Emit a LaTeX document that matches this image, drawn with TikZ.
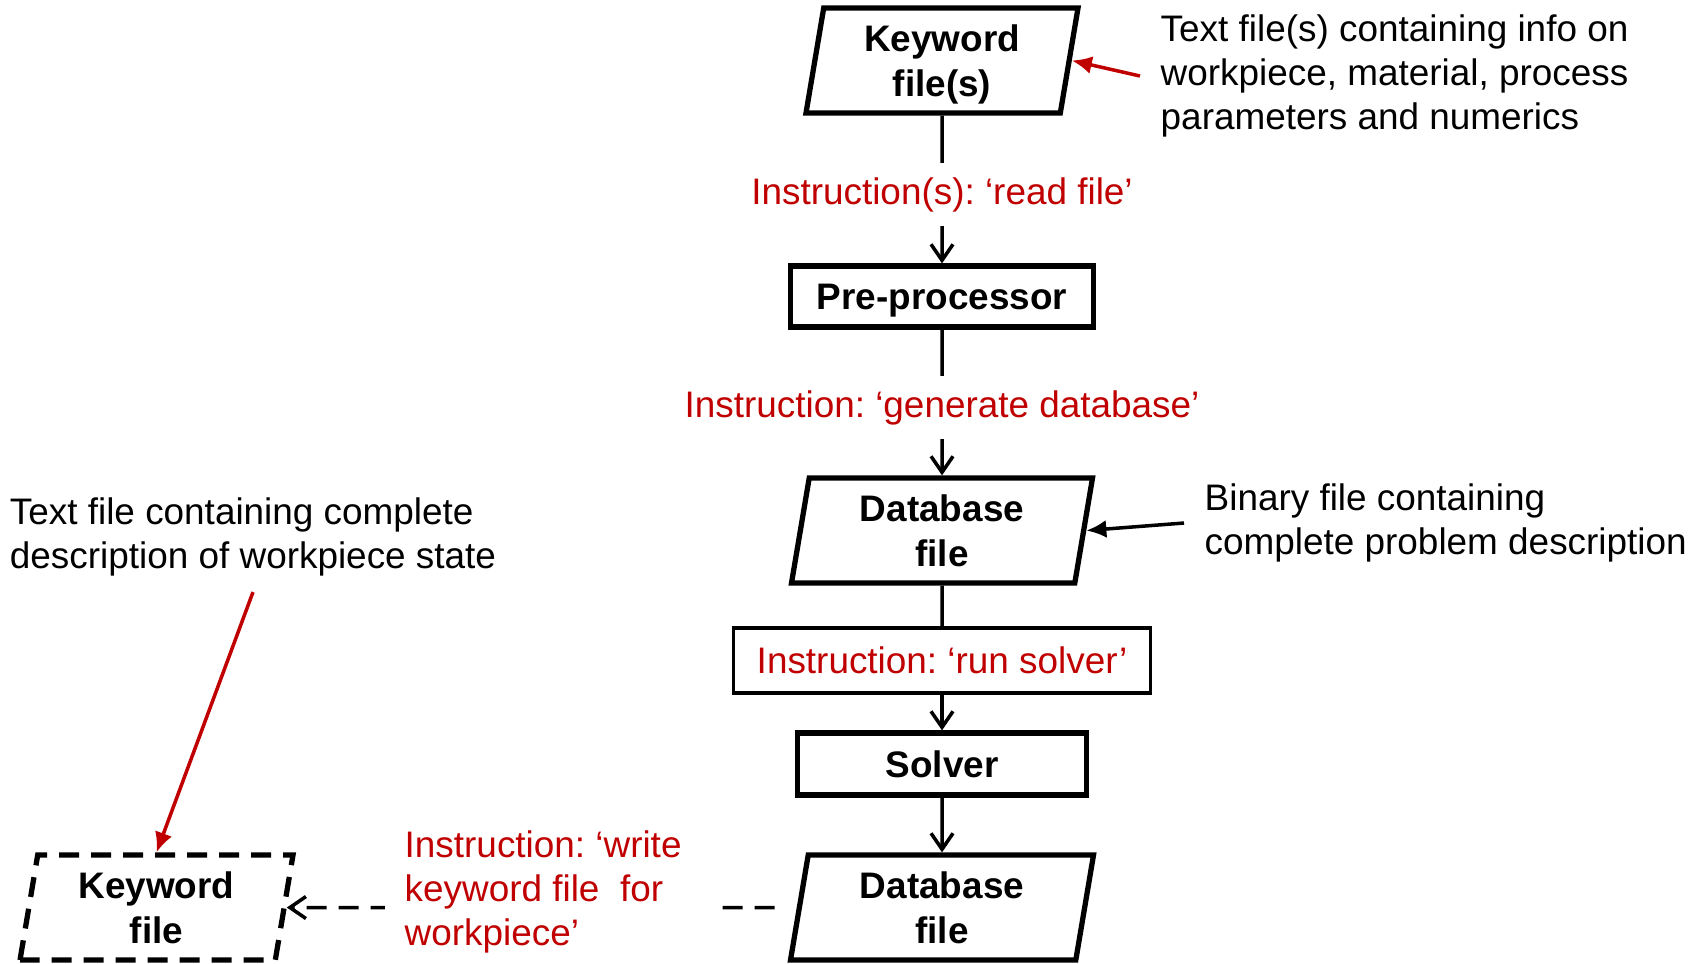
\documentclass[tikz,border=0pt]{standalone}
\usepackage{fontspec}
\setmainfont{Liberation Sans}
\usetikzlibrary{
  arrows.meta,      % Straight Barb / Latex tips
  shapes.geometric, % trapezium for the file symbols
  positioning       % relative placement
}
\definecolor{instred}{RGB}{192,0,0}
\newcommand{\diagfont}{\fontsize{10.5}{12.6}\selectfont\frenchspacing}

\tikzset{
  every node/.style={font=\diagfont},
  box/.style={draw, line width=1.5pt, rectangle, font=\diagfont\bfseries, inner sep=0pt, text depth=0pt},
  filebox/.style={draw, line width=1.5pt, trapezium, trapezium left angle=76,
    trapezium right angle=104, trapezium stretches body, align=center,
    font=\diagfont\bfseries, inner sep=0pt, text depth=0pt},
  instr/.style={text=instred, fill=white, inner xsep=0.1cm, inner ysep=0.14cm, yshift=-0.05cm},
  note/.style={align=left, inner xsep=0.2cm, inner ysep=0.15cm},
  flow/.style={line width=1pt, -{Straight Barb[length=1.6mm,width=2.2mm]}},
  pointer/.style={line width=1pt, -{Latex[length=2mm,width=1.8mm]}},
}

\begin{document}
\begin{tikzpicture}
    \useasboundingbox (0,0) rectangle (17.04,-9.63);
    % main column
    \def\colx{9.42}

    % --- flow of files and programs ---
    \node[filebox, minimum width=2.72cm, minimum height=1.05cm] (kw) at (\colx,-0.605) {Keyword\\file(s)};
    \node[box, minimum width=3.03cm, minimum height=0.61cm] (pre) at (\colx,-2.965) {Pre-processor};
    \node[filebox, minimum width=3.01cm, minimum height=1.05cm] (db) at (\colx,-5.305) {Database\\file};
    \node[box, line width=1.1pt, minimum width=4.17cm, minimum height=0.65cm, font=\diagfont, text=instred] (run) at (\colx,-6.605) {Instruction: ‘run solver’};
    \node[box, minimum width=2.89cm, minimum height=0.62cm] (solver) at (\colx,-7.64) {Solver};
    \node[filebox, minimum width=3.03cm, minimum height=1.05cm] (dbout) at (\colx,-9.075) {Database\\file};
    \node[filebox, dash pattern=on 0.2cm off 0.12cm, minimum width=2.73cm, minimum height=1.05cm] (kwout) at (1.565,-9.075) {Keyword\\file};

    % --- connectors ---
    \draw[flow] (kw.south) -- (pre.north) node[instr, midway] (readlbl) {Instruction(s): ‘read file’};
    \draw[flow] (pre.south) -- (db.north) node[instr, midway] (genlbl) {Instruction: ‘generate database’};
    \draw[line width=1pt] (db.south) -- (run.north);
    \draw[flow] (run.south) -- (solver.north);
    \draw[flow] (solver.south) -- (dbout.north);
    \draw[flow, dash pattern=on 0.2cm off 0.12cm, shorten <=0.22cm] (dbout.west) -- (kwout.east);
    \node[anchor=west, align=flush left, text width=2.95cm, text=instred, fill=white, inner xsep=0.2cm] (writelbl) at (3.84,-8.92)
      {Instruction: ‘write\\keyword file\ \ for\\workpiece’};

    % --- notes ---
    \node[note, anchor=west] (kwnote) at (11.40,-0.76)
      {Text file(s) containing info on\\workpiece, material, process\\parameters and numerics};
    \node[note, anchor=west] (dbnote) at (11.84,-5.23)
      {Binary file containing\\complete problem description};
    \node[note] (outnote) at (2.53,-5.37)
      {Text file containing complete\\description of workpiece state};

    \draw[pointer, instred] (kwnote.west) -- (kw.east);
    \draw[pointer] (dbnote.west) -- (db.east);
    \draw[pointer, instred] (outnote.south) -- (kwout.north);
\end{tikzpicture}
\end{document}
